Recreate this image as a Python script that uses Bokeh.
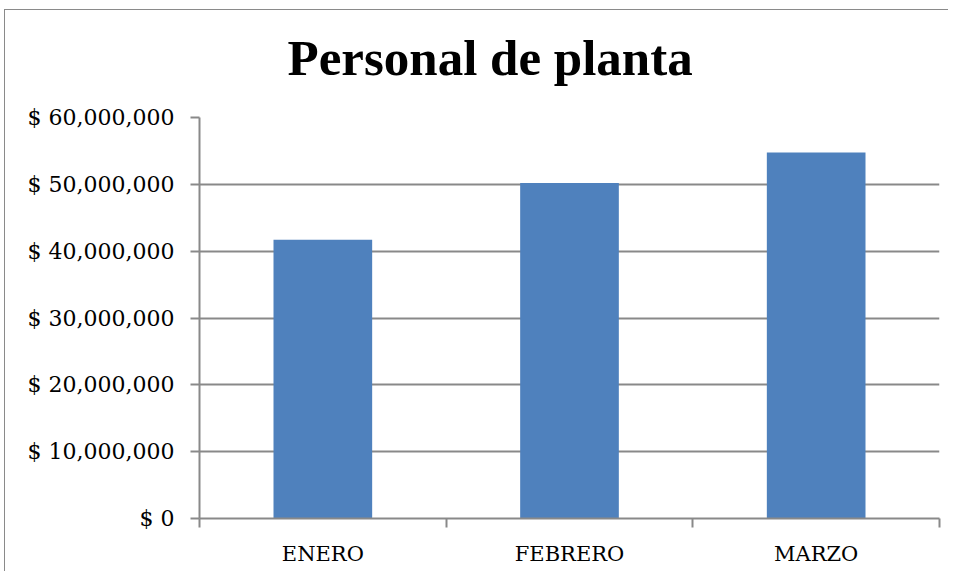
from bokeh.plotting import figure
from bokeh.models import Range1d, FixedTicker
from bokeh.embed import file_html
from bokeh.resources import INLINE

# ---- data ----
months = ["ENERO", "FEBRERO", "MARZO"]
values = [41700000, 50200000, 54750000]
y_ticks = [0, 10000000, 20000000, 30000000, 40000000, 50000000, 60000000]
y_labels = ["$ 0", "$ 10,000,000", "$ 20,000,000", "$ 30,000,000",
            "$ 40,000,000", "$ 50,000,000", "$ 60,000,000"]
title_text = "Personal de planta"

# positions derived from category index (bar centres / category boundaries)
x_centres = [i + 0.5 for i in range(len(months))]
x_bounds = [float(i) for i in range(len(months) + 1)]

GRID = "#898989"
FONT = "DejaVu Serif"

p = figure(width=948, height=571, output_backend="svg", toolbar_location=None,
           x_range=Range1d(0, len(months)), y_range=Range1d(0, y_ticks[-1]),
           min_border_left=199, min_border_right=9, min_border_top=10,
           min_border_bottom=53, tools="", title=title_text)
# outer chart-area frame (left and top edges visible in the crop)
p.styles = {
    "background-color": "white",
    "background-image": "linear-gradient(#8a8a8a, #8a8a8a), linear-gradient(#8a8a8a, #8a8a8a)",
    "background-repeat": "no-repeat, no-repeat",
    "background-size": "1px 100%, 100% 1px",
    "background-position": "4px 9px, 4px 9px",
}
p.border_fill_alpha = 0
p.outline_line_color = None
p.background_fill_color = "white"

p.title.text_font = "Liberation Serif"
p.title.text_font_style = "bold"
p.title.text_font_size = "51px"
p.title.text_color = "black"
p.title.align = "left"
p.title.offset = 88
p.title.standoff = 59
p.title.vertical_align = "top"

p.vbar(x=x_centres, top=values, width=0.4, fill_color="#4f81bd", line_width=0)

# y axis
p.yaxis.ticker = FixedTicker(ticks=y_ticks, minor_ticks=[])
p.yaxis.major_label_overrides = {t: l for t, l in zip(y_ticks, y_labels)}
p.yaxis.axis_line_color = GRID
p.yaxis.axis_line_width = 2
p.yaxis.major_tick_line_color = GRID
p.yaxis.major_tick_line_width = 2
p.yaxis.major_tick_out = 9
p.yaxis.major_tick_in = 0
p.yaxis.major_label_standoff = 16
p.yaxis.major_label_text_font = FONT
p.yaxis.major_label_text_font_size = "22px"
p.yaxis.major_label_text_color = "black"

# x axis
p.xaxis.ticker = FixedTicker(ticks=x_centres, minor_ticks=x_bounds)
p.xaxis.major_label_overrides = {c: m for c, m in zip(x_centres, months)}
p.xaxis.axis_line_color = GRID
p.xaxis.axis_line_width = 2
p.xaxis.major_tick_line_color = None
p.xaxis.major_tick_out = 0
p.xaxis.major_tick_in = 0
p.xaxis.minor_tick_line_color = GRID
p.xaxis.minor_tick_line_width = 2
p.xaxis.minor_tick_out = 9
p.xaxis.minor_tick_in = 0
p.xaxis.major_label_standoff = 14
p.xaxis.major_label_text_font = FONT
p.xaxis.major_label_text_font_size = "21px"
p.xaxis.major_label_text_color = "black"

# grid
p.xgrid.grid_line_color = None
p.ygrid.ticker = FixedTicker(ticks=y_ticks)
p.ygrid.grid_line_color = GRID
p.ygrid.grid_line_width = 2

open("out.html", "w").write(file_html(p, INLINE))
